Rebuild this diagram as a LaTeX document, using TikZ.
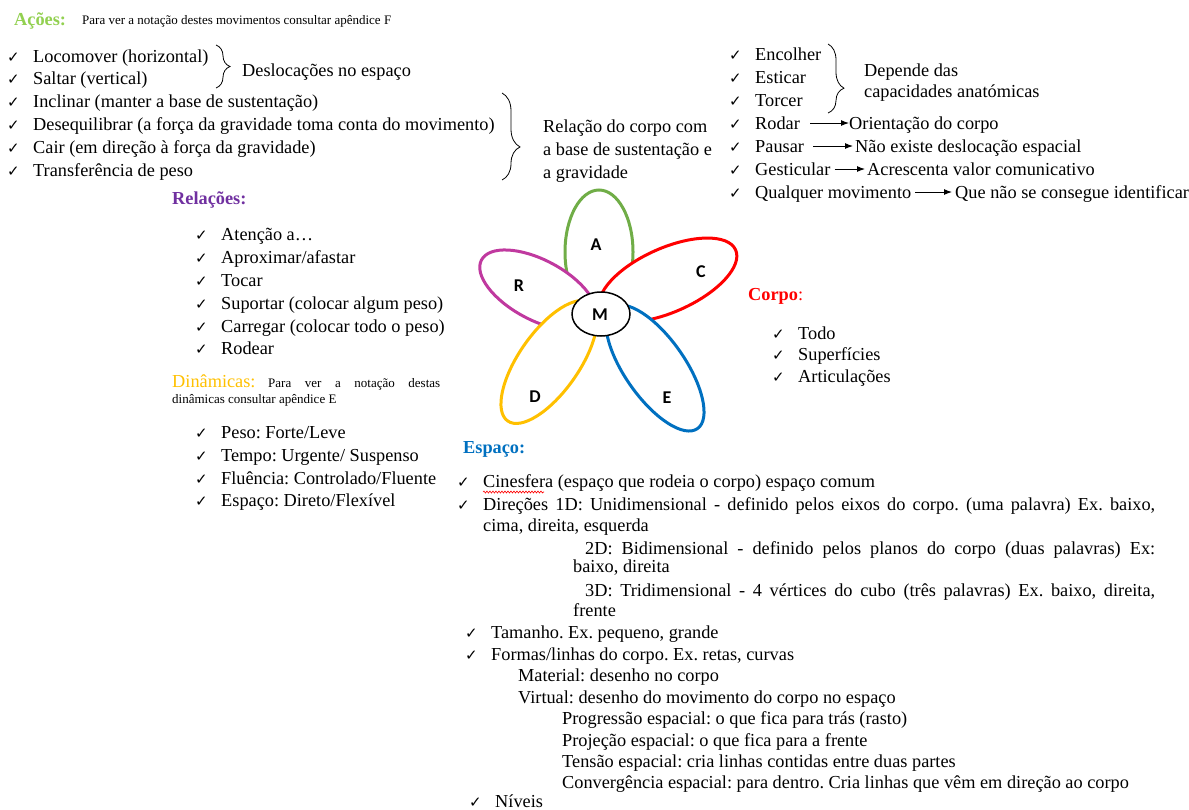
\documentclass[tikz,border=0pt]{standalone}
\usepackage{fontspec}
\setmainfont{Liberation Serif}
\newfontfamily\symbfont{DejaVu Sans}
\newfontfamily\petalfont{Carlito}
\usetikzlibrary{arrows.meta,decorations.pathreplacing,decorations.pathmorphing}

\definecolor{acoescol}{HTML}{92D050}
\definecolor{relcol}{HTML}{7030A0}
\definecolor{dincol}{HTML}{FFC000}
\definecolor{corpocol}{HTML}{FF0000}
\definecolor{espcol}{HTML}{0070C0}
\definecolor{petalA}{HTML}{70AD47}
\definecolor{petalR}{HTML}{C0399F}

\newcommand{\chk}{\makebox[26pt][l]{\symbfont\fontsize{15}{15}\selectfont ✓}}

\tikzset{
  txt/.style={anchor=base west, inner sep=0pt, font=\fontsize{18.3}{22}\selectfont},
  note/.style={anchor=base west, inner sep=0pt, font=\fontsize{13}{15}\selectfont},
  head/.style={anchor=base west, inner sep=0pt, font=\fontsize{18.3}{22}\selectfont\bfseries},
  letter/.style={inner sep=0pt, font=\petalfont\fontsize{18}{18}\selectfont\bfseries},
  petal/.style={line width=3pt, fill=white},
  arr/.style={-{Latex[length=8pt,width=6pt]}, line width=1pt},
  bracket/.style={decorate, line width=0.8pt},
}

\begin{document}
\frenchspacing
\begin{tikzpicture}[x=1pt,y=-1pt]
    \useasboundingbox (0,0) rectangle (1189,809);

    % Acoes
    \node[head, acoescol] (acoes) at (14,25) {Ações:};
    \node[note] (acoesnote) at (82,24) {Para ver a notação destes movimentos consultar apêndice F};
    \node[txt] (loco) at (7,62) {\chk Locomover (horizontal)};
    \node[txt] (saltar) at (7,84) {\chk Saltar (vertical)};
    \node[txt] (incl) at (7,107) {\chk Inclinar (manter a base de sustentação)};
    \node[txt] (deseq) at (7,130) {\chk Desequilibrar (a força da gravidade toma conta do movimento)};
    \node[txt] (cair) at (7,153) {\chk Cair (em direção à força da gravidade)};
    \node[txt] (transf) at (7,176) {\chk Transferência de peso};

    \draw[bracket, decoration={brace, amplitude=14pt}] (216,45) -- (216,88);
    \node[txt] (desloc) at (242,76) {Deslocações no espaço};
    \draw[bracket, decoration={brace, amplitude=18pt, aspect=0.62}] (502,93) -- (502,180);
    \node[txt] (rel1) at (543,132) {Relação do corpo com};
    \node[txt] (rel2) at (543,155) {a base de sustentação e};
    \node[txt] (rel3) at (543,178) {a gravidade};

    \node[txt] (encolher) at (729,60) {\chk Encolher};
    \node[txt] (esticar) at (729,83) {\chk Esticar};
    \node[txt] (torcer) at (729,106) {\chk Torcer};
    \draw[bracket, decoration={brace, amplitude=16pt, aspect=0.64}] (828,44) -- (828,113);
    \node[txt] (depende1) at (864,76) {Depende das};
    \node[txt] (depende2) at (864,97) {capacidades anatómicas};
    \node[txt] (rodar) at (729,129) {\chk Rodar};
    \node[txt] (orient) at (849,129) {Orientação do corpo};
    \node[txt] (pausar) at (729,152) {\chk Pausar};
    \node[txt] (naoexiste) at (855,152) {Não existe deslocação espacial};
    \node[txt] (gestic) at (729,175) {\chk Gesticular};
    \node[txt] (acresc) at (867,175) {Acrescenta valor comunicativo};
    \node[txt] (qualquer) at (729,198) {\chk Qualquer movimento};
    \node[txt] (naoid) at (955,198) {Que não se consegue identificar};
    \draw[arr] ([shift={(10,-6)}]rodar.base east) -- ([shift={(0,-6)}]orient.base west);
    \draw[arr] ([shift={(9,-6)}]pausar.base east) -- ([shift={(-2,-6)}]naoexiste.base west);
    \draw[arr] ([shift={(4,-6)}]gestic.base east) -- ([shift={(-2,-6)}]acresc.base west);
    \draw[arr] ([shift={(4,-6)}]qualquer.base east) -- ([shift={(-3,-6)}]naoid.base west);

    % Relacoes
    \node[head, relcol] (relacoes) at (172,204) {Relações:};
    \node[txt] (atencao) at (195,240) {\chk Atenção a\ldots};
    \node[txt] (aprox) at (195,263) {\chk Aproximar/afastar};
    \node[txt] (tocar) at (195,286) {\chk Tocar};
    \node[txt] (suportar) at (195,309) {\chk Suportar (colocar algum peso)};
    \node[txt] (carregar) at (195,332) {\chk Carregar (colocar todo o peso)};
    \node[txt] (rodear) at (195,354) {\chk Rodear};

    % Dinamicas
    \node[txt, dincol] (dinam) at (172,387) {Dinâmicas:};
    \node[note] (dinnote1) at (268,387) {\makebox[172pt][s]{Para ver a notação destas}};
    \node[note] (dinnote2) at (172,403) {dinâmicas consultar apêndice E};
    \node[txt] (peso) at (195,438) {\chk Peso: Forte/Leve};
    \node[txt] (tempo) at (195,461) {\chk Tempo: Urgente/ Suspenso};
    \node[txt] (fluencia) at (195,484) {\chk Fluência: Controlado/Fluente};
    \node[txt] (espdin) at (195,506) {\chk Espaço: Direto/Flexível};

    % flor
    \draw[petal, draw=petalA] (599,252) ellipse (34 and 62);
    \draw[petal, draw=corpocol, rotate around={24:(668,280)}] (668,280) ellipse (74 and 32);
    \draw[petal, draw=petalR, rotate around={-28:(538,290)}] (538,290) ellipse (64 and 30);
    \draw[petal, draw=dincol, rotate around={55:(549,362)}] (549,362) ellipse (72 and 30);
    \draw[petal, draw=espcol, rotate around={-55:(655,368)}] (655,368) ellipse (74 and 30);
    \draw[line width=1.5pt, fill=white] (601,314) ellipse (29 and 22);
    \node[letter] (la) at (596,245) {A};
    \node[letter] (lc) at (701,272) {C};
    \node[letter] (lr) at (519,286) {R};
    \node[letter] (ld) at (535,397) {D};
    \node[letter] (le) at (667,398) {E};
    \node[letter] (lm) at (600,315) {M};

    % Corpo
    \node[head, corpocol] (corpo) at (748,300) {Corpo\mdseries:};
    \node[txt] (todo) at (772,339) {\chk Todo};
    \node[txt] (superf) at (772,360) {\chk Superfícies};
    \node[txt] (artic) at (772,382) {\chk Articulações};

    % Espaco
    \node[head, espcol] (espaco) at (463,453) {Espaço:};
    \node[txt] (cines) at (457,487) {\chk Cinesfera (espaço que rodeia o corpo) espaço comum};
    \draw[red, decorate, decoration={snake, amplitude=1pt, segment length=3pt}, line width=0.6pt] (483,492) -- (544,492);
    \node[txt] (dir1) at (457,510) {\chk\makebox[672pt][s]{Direções 1D: Unidimensional - definido pelos eixos do corpo. (uma palavra) Ex. baixo,}};
    \node[txt] (dir1b) at (483,531) {cima, direita, esquerda};
    \node[txt] (dir2) at (585,554) {\makebox[570pt][s]{2D: Bidimensional - definido pelos planos do corpo (duas palavras) Ex:}};
    \node[txt] (dir2b) at (573,572) {baixo, direita};
    \node[txt] (dir3) at (585,596) {\makebox[570pt][s]{3D: Tridimensional - 4 vértices do cubo (três palavras) Ex. baixo, direita,}};
    \node[txt] (dir3b) at (573,616) {frente};
    \node[txt] (tam) at (465,638) {\chk Tamanho. Ex. pequeno, grande};
    \node[txt] (formas) at (465,660) {\chk Formas/linhas do corpo. Ex. retas, curvas};
    \node[txt] (mat) at (518,681) {Material: desenho no corpo};
    \node[txt] (virt) at (518,703) {Virtual: desenho do movimento do corpo no espaço};
    \node[txt] (prog) at (562,724) {Progressão espacial: o que fica para trás (rasto)};
    \node[txt] (proj) at (562,746) {Projeção espacial: o que fica para a frente};
    \node[txt] (tens) at (562,767) {Tensão espacial: cria linhas contidas entre duas partes};
    \node[txt] (conv) at (562,788) {Convergência espacial: para dentro. Cria linhas que vêm em direção ao corpo};
    \node[txt] (niveis) at (469,807) {\chk Níveis};
\end{tikzpicture}
\end{document}
